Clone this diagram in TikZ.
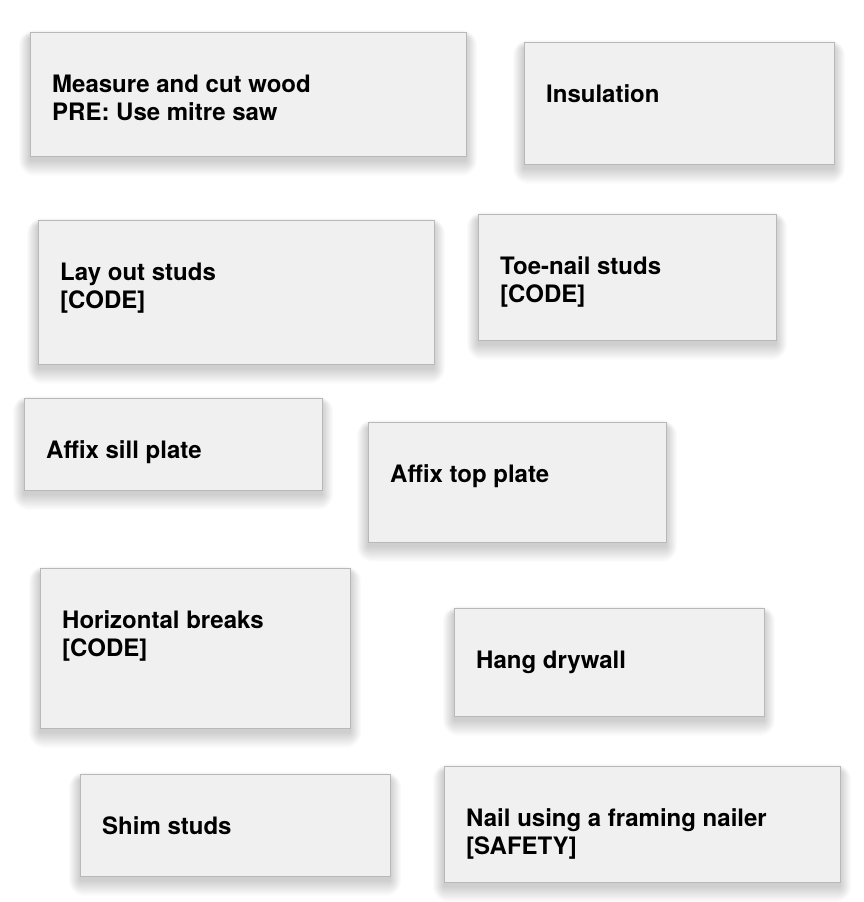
\documentclass[tikz,border=0pt]{standalone}
\usepackage{fontspec}
\setmainfont{TeX Gyre Heros}
\usetikzlibrary{calc}
\definecolor{cardfill}{HTML}{F0F0F0}
\definecolor{cardedge}{HTML}{B8B8B8}
\tikzset{
  card/.style={draw=cardedge, fill=cardfill, line width=0.8pt, inner sep=0pt, anchor=north west},
  cardtext/.style={anchor=north west, inner sep=0pt, align=left, font=\fontsize{24}{28}\selectfont\bfseries},
}
\newcommand\cardbox[6]{%
  \foreach \i in {1,...,16}{\fill[black,opacity=0.011,rounded corners=\i pt] (#2-\i*0.7, #3+6-\i*0.5) rectangle (#2+#4+\i*0.7, #3+#5+4+\i);}
  \node[card, minimum width=#4pt, minimum height=#5pt] (#1) at (#2,#3) {};
  \node[cardtext] (#1-t) at ($(#1.north west)+(22,42.5)$) {#6};
}
\begin{document}
\begin{tikzpicture}[x=1pt,y=-1pt]
\fill[white] (0,0) rectangle (864,902);
\useasboundingbox (0,0) rectangle (864,902);
\cardbox{measure}{30}{32}{436}{124}{Measure and cut wood\\PRE: Use mitre saw}
\cardbox{insul}{524}{42}{310}{122}{Insulation}
\cardbox{layout}{38}{220}{396}{144}{Lay out studs\\{[CODE]}}
\cardbox{toenail}{478}{214}{298}{126}{Toe-nail studs\\{[CODE]}}
\cardbox{sill}{24}{398}{298}{92}{Affix sill plate}
\cardbox{top}{368}{422}{298}{120}{Affix top plate}
\cardbox{hbreak}{40}{568}{310}{160}{Horizontal breaks\\{[CODE]}}
\cardbox{drywall}{454}{608}{310}{108}{Hang drywall}
\cardbox{shim}{80}{774}{310}{102}{Shim studs}
\cardbox{nail}{444}{766}{396}{116}{Nail using a framing nailer\\{[SAFETY]}}
\end{tikzpicture}
\end{document}
